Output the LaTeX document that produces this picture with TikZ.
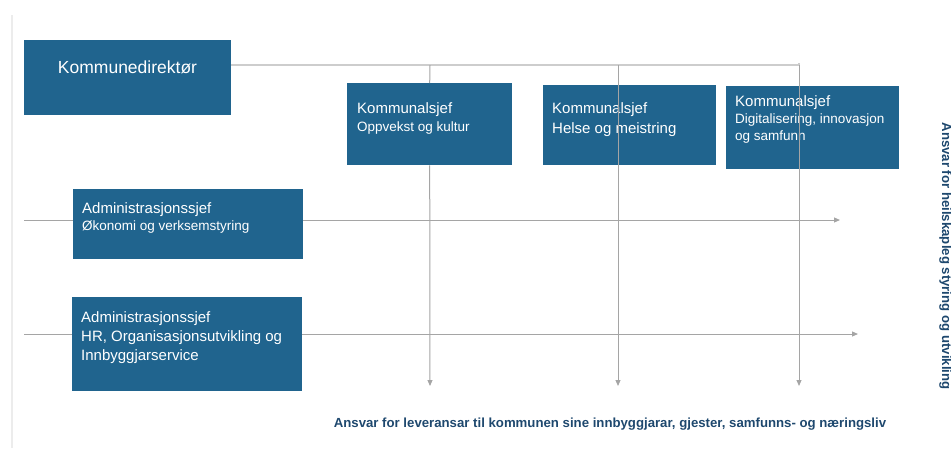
\documentclass[tikz,border=0pt]{standalone}
\usepackage{fontspec}
\setmainfont{Liberation Sans}
\usetikzlibrary{arrows.meta}
\definecolor{boxblue}{RGB}{32,100,142}
\definecolor{navy}{RGB}{30,72,110}
\definecolor{lgray}{RGB}{205,205,205}
\definecolor{agray}{RGB}{165,165,165}
\newcommand{\titlesz}{\fontsize{15}{19}\selectfont}
\newcommand{\subsz}{\fontsize{13.5}{17}\selectfont}

\begin{document}
\begin{tikzpicture}[x=1pt,y=-1pt,
  org/.style={fill=boxblue,anchor=north west,inner sep=0pt},
  lbl/.style={text=white,anchor=base west,align=left,inner sep=0pt},
  ln/.style={line width=1pt,agray},
  arr/.style={line width=1pt,agray,-{Triangle[length=6pt,width=5pt]}},
  note/.style={navy,font=\fontsize{13.2}{15}\selectfont\bfseries,inner sep=0pt}]
\useasboundingbox (0,0) rectangle (951,448);
% page margin
\draw[gray!15,line width=1.5pt] (12,15) -- (12,448);
% boxes (text anchored at last baseline)
\node[org,minimum width=207pt,minimum height=75pt] (kd) at (24,40) {};
\node[lbl,anchor=base,font=\fontsize{17.5}{21}\selectfont] (kdt) at (127.5,73) {Kommunedirektør};
\node[org,minimum width=165pt,minimum height=82pt] (k1) at (347,83) {};
\node[lbl,font=\titlesz] (k1t) at (357,131) {Kommunalsjef\\[-1pt]{\subsz Oppvekst og kultur}};
\node[org,minimum width=173pt,minimum height=80pt] (k2) at (543,85) {};
\node[lbl,font=\titlesz] (k2t) at (552,133) {Kommunalsjef\\[1pt]Helse og meistring};
\node[org,minimum width=173pt,minimum height=83pt] (k3) at (726,86) {};
\node[lbl,font=\titlesz] (k3t) at (735,140) {Kommunalsjef\\[-2pt]{\subsz Digitalisering, innovasjon}\\[-2pt]{\subsz og samfunn}};
\node[org,minimum width=230pt,minimum height=70pt] (a1) at (73,189) {};
\node[lbl,font=\titlesz] (a1t) at (82,230) {Administrasjonssjef\\[-2pt]{\subsz Økonomi og verksemstyring}};
\node[org,minimum width=230pt,minimum height=94pt] (a2) at (72,297) {};
\node[lbl,font=\titlesz] (a2t) at (81,360) {Administrasjonssjef\\HR, Organisasjonsutvikling og\\Innbyggjarservice};
% line ends
\coordinate (top) at (799,65);
\coordinate (e1) at (430,386);
\coordinate (e2) at (618,386);
\coordinate (e3) at (799,386);
\coordinate (l1) at (24,220);
\coordinate (r1) at (840,220);
\coordinate (l2) at (24,334);
\coordinate (r2) at (858,334);
% top line and columns
\draw[lgray,line width=1.5pt] (kd.east |- top) -- (top) -- ++(0,-2);
\draw[ln] (e1 |- top) -- (k1.north);
\draw[arr] (k1.south) -- (e1);
\draw[arr] (e2 |- top) -- (e2);
\draw[arr] (top) -- (e3);
% rows
\draw[ln] (l1) -- (l1 -| a1.west);
\draw[arr] (l1 -| a1.east) -- (r1);
\draw[ln] (l2) -- (l2 -| a2.west);
\draw[arr] (l2 -| a2.east) -- (r2);
% notes
\node[note,rotate=-90,anchor=base] (side) at (942,256) {Ansvar for heilskapleg styring og utvikling};
\node[note,anchor=base] (foot) at (610,427) {Ansvar for leveransar til kommunen sine innbyggjarar, gjester, samfunns- og næringsliv};
\end{tikzpicture}
\end{document}
